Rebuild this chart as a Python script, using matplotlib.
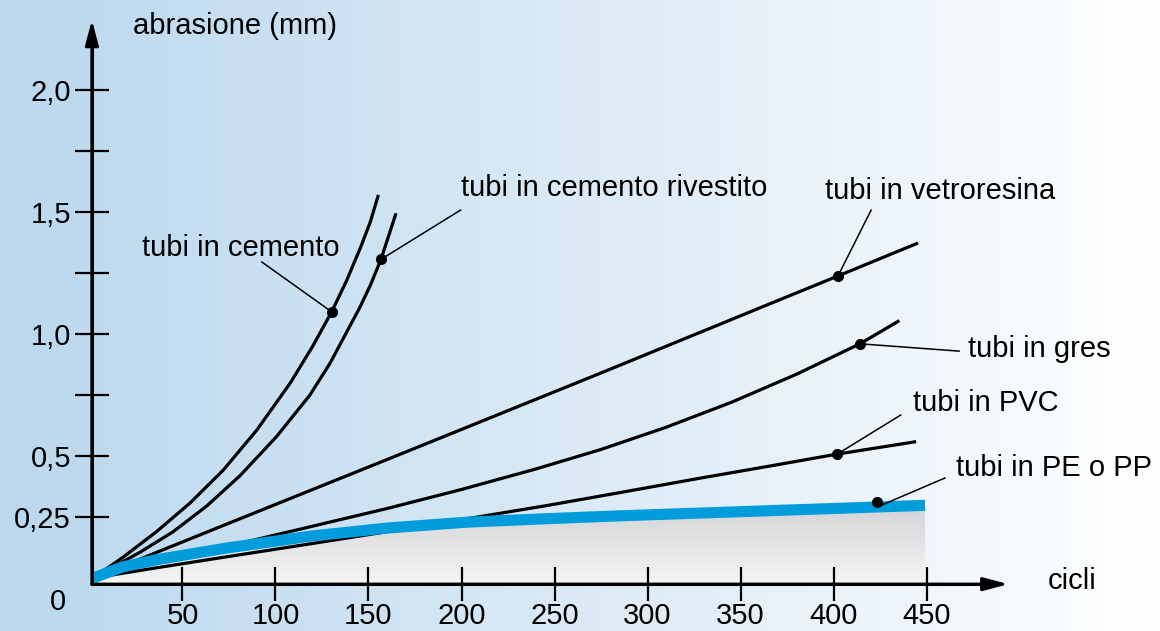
import numpy as np
import matplotlib
matplotlib.use("Agg")
import matplotlib.pyplot as plt
from matplotlib import transforms
from matplotlib.colors import to_rgb

plt.rcParams['font.family'] = ['Liberation Sans', 'DejaVu Sans']

# valori (cicli, abrasione in mm)
cemento_x = [1.9, 18, 36, 54, 72, 90, 108, 120, 130.2, 138, 146, 151, 155.3]
cemento_y = [0, 0.085, 0.19, 0.307, 0.443, 0.607, 0.80, 0.95, 1.091, 1.215, 1.36, 1.46, 1.57]

rivestito_x = [1.9, 27, 45, 63, 81, 100.6, 118.5, 129.3, 145.4, 151, 156.7, 164.8]
rivestito_y = [0, 0.105, 0.19, 0.295, 0.42, 0.58, 0.75, 0.88, 1.11, 1.20, 1.306, 1.495]

vetro_x = [1.9, 71.8, 166.9, 274.5, 372.8, 402.4, 445.4]
vetro_y = [0, 0.215, 0.507, 0.839, 1.146, 1.238, 1.373]

gres_x = [1.9, 60, 113, 160, 200, 240, 275, 310, 345, 380, 414.2, 435.4]
gres_y = [0, 0.105, 0.20, 0.285, 0.363, 0.447, 0.527, 0.618, 0.72, 0.835, 0.96, 1.055]

pvc_x = [1.9, 36, 72, 118.5, 160, 203, 245, 285, 328, 365, 402, 444.4]
pvc_y = [0, 0.042, 0.085, 0.14, 0.19, 0.243, 0.296, 0.35, 0.409, 0.458, 0.508, 0.559]

pe_x = [1.9, 18, 36, 72, 118, 160, 203, 245, 285, 350, 449.2]
pe_y = [0, 0.046, 0.075, 0.121, 0.171, 0.205, 0.229, 0.243, 0.255, 0.272, 0.298]

x_ticks = [50, 100, 150, 200, 250, 300, 350, 400, 450]
y_ticks = [0.25, 0.5, 0.75, 1.0, 1.25, 1.5, 1.75, 2.0]
y_labels = ["0,25", "0,5", "", "1,0", "", "1,5", "", "2,0"]

labels = ["tubi in cemento", "tubi in cemento rivestito", "tubi in vetroresina",
          "tubi in gres", "tubi in PVC", "tubi in PE o PP"]
dot_idx = [8, 10, 5, 10, 10, None]
label_pos = [(28.5, 1.352), (199.5, 1.598), (395.2, 1.585),
             (472.3, 0.938), (442.5, 0.716), (465.7, 0.45)]
leader_from = [(92.7, 1.295), (199.5, 1.508), (420.2, 1.508),
               (467.5, 0.930), (436.1, 0.668), (459.9, 0.41)]
pe_dot_x = 423.5

fig = plt.figure(figsize=(11.6, 6.31), dpi=100)
ax = fig.add_axes([0, 0, 1, 1])
ax.set_xlim(-48.1, 575.5)
ax.set_ylim(-0.217, 2.369)

# sfondo sfumato
c0 = np.array(to_rgb("#bbd8ee"))
c1 = np.array(to_rgb("#ffffff"))
t = np.linspace(0, 1, 400) ** 1.1
grad = c0[None, :] * (1 - t[:, None]) + c1[None, :] * t[:, None]
ax.imshow(grad[None, :, :], extent=[0, 1, 0, 1], transform=ax.transAxes,
          aspect='auto', zorder=0)

# riempimento grigio sotto PE/PP
y_axis = -0.025
fill = ax.fill_between(pe_x, pe_y, y_axis, color='none', lw=0, zorder=1)
g0 = np.array(to_rgb("#d3d4d7"))
g1 = np.array(to_rgb("#f5f5f5"))
s = np.linspace(0, 1, 200)
vg = g0[None, :] * (1 - s[:, None]) + g1[None, :] * s[:, None]
im = ax.imshow(vg[:, None, :], extent=[0, 450, y_axis, max(pe_y)],
               aspect='auto', zorder=1)
im.set_clip_path(fill.get_paths()[0], transform=ax.transData)

series = [(cemento_x, cemento_y), (rivestito_x, rivestito_y), (vetro_x, vetro_y),
          (gres_x, gres_y), (pvc_x, pvc_y)]
for xs, ys in series:
    ax.plot(xs, ys, color='black', lw=2.3, zorder=3, solid_capstyle='butt',
            solid_joinstyle='round')
ax.plot(pe_x, pe_y, color='#009cdc', lw=8, zorder=4, solid_capstyle='butt',
        solid_joinstyle='round')

# etichette con linee di richiamo
for i, lab in enumerate(labels):
    if dot_idx[i] is not None:
        xs, ys = series[i]
        px, py = xs[dot_idx[i]], ys[dot_idx[i]]
        trans = ax.transData
    else:
        px, py = pe_dot_x, float(np.interp(pe_dot_x, pe_x, pe_y))
        trans = transforms.offset_copy(ax.transData, fig=fig, y=5, units='dots')
    lx, ly = leader_from[i]
    ax.plot([lx, px], [ly, py], color='black', lw=1.1, zorder=5)
    ax.plot([px], [py], 'o', color='black', ms=7, zorder=6, transform=trans)
    ax.text(label_pos[i][0], label_pos[i][1], lab, fontsize=21,
            ha='left', va='center', zorder=6)

# assi
for side in ['top', 'right']:
    ax.spines[side].set_visible(False)
ax.spines['left'].set_position(('data', 1.3))
ax.spines['bottom'].set_position(('data', y_axis))
ax.spines['left'].set_bounds(y_axis, 2.2)
ax.spines['bottom'].set_bounds(1.3, 480)
for side in ['left', 'bottom']:
    ax.spines[side].set_linewidth(2.2)
    ax.spines[side].set_zorder(7)
arrow_kw = dict(arrowstyle='-|>,head_length=0.75,head_width=0.2', lw=2.2,
                color='black', mutation_scale=20, shrinkA=0, shrinkB=0)
ax.annotate('', xy=(1.3, 2.287), xytext=(1.3, y_axis), arrowprops=arrow_kw, zorder=7)
ax.annotate('', xy=(494, y_axis), xytext=(1.3, y_axis), arrowprops=arrow_kw, zorder=7)

ax.set_xticks(x_ticks)
ax.set_xticklabels([str(v) for v in x_ticks])
ax.set_yticks(y_ticks)
ax.set_yticklabels(y_labels)
ax.tick_params(direction='inout', length=24, width=1.6, labelsize=21,
               color='black', labelcolor='black')
ax.tick_params(axis='y', pad=3)
ax.tick_params(axis='x', pad=1)

ax.text(-16.9, -0.1, "0", fontsize=21, ha='center', va='center')
ax.text(23.4, 2.262, "abrasione (mm)", fontsize=21, ha='left', va='center')
ax.text(515.3, -0.012, "cicli", fontsize=21, ha='left', va='center')

fig.savefig("out.png", dpi=100)
